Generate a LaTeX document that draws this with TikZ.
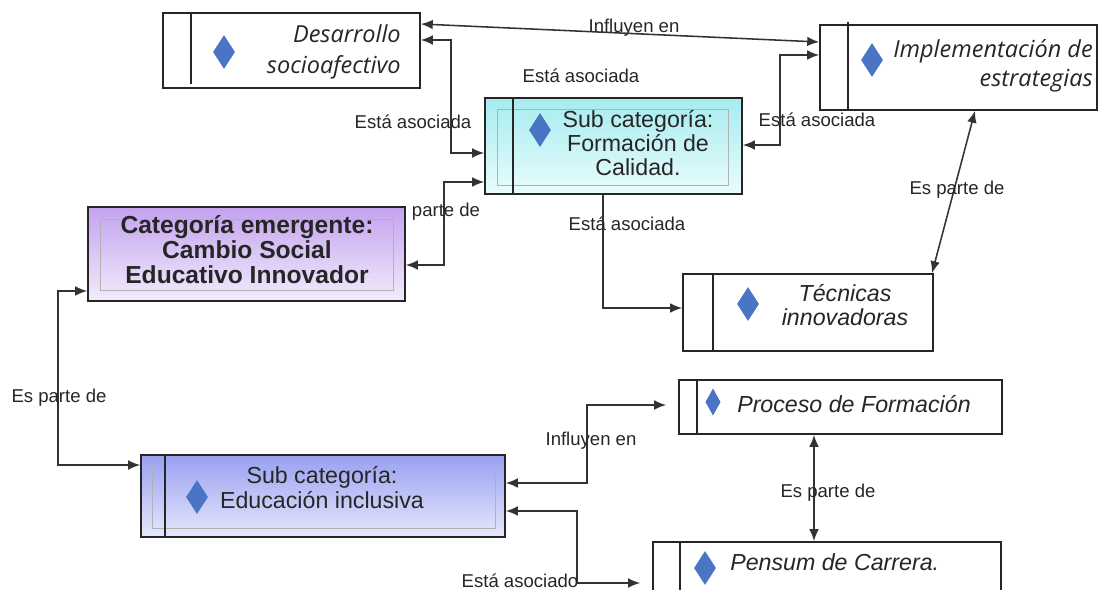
\documentclass[tikz,border=0pt]{standalone}
\usepackage{fontspec}
\setmainfont{Liberation Sans}
\newfontfamily\opensans{Open Sans}
\usetikzlibrary{arrows.meta,fit,shapes.geometric}
\definecolor{gemblue}{HTML}{4A74C4}
\definecolor{cyantop}{HTML}{A6ECEF}
\definecolor{cyanbot}{HTML}{EAFCFD}
\definecolor{violtop}{HTML}{C4A2EE}
\definecolor{violbot}{HTML}{F2ECFC}
\definecolor{bluetop}{HTML}{98A0F0}
\definecolor{bluebot}{HTML}{E6E8FC}
\tikzset{
  box/.style={draw=black!85,line width=1.1pt,inner sep=0pt},
  faint/.style={draw=black!30,line width=0.4pt},
  gem/.style={diamond,fill=gemblue,inner sep=0pt,minimum width=0.55cm,minimum height=0.85cm},
  lbl/.style={font=\fontsize{13.2}{15}\selectfont,inner sep=0pt,text=black!85},
  link/.style={line width=1.1pt,draw=black!80,<->},
  linkto/.style={line width=1.1pt,draw=black!80,->},
  >={Latex[length=3mm,width=2.4mm]}
}
\begin{document}
\begin{tikzpicture}[x=0.025cm,y=-0.025cm]
\clip (0,0) rectangle (1099,590);
\fill[white] (0,0) rectangle (1099,590);
% boxes
\node[box,fit={(163,13) (420,88)}] (des) {};
\node[box,fit={(820,25) (1097,110)}] (impl) {};
\node[box,top color=cyantop,bottom color=cyanbot,fit={(485,98) (742,194)}] (form) {};
\node[box,top color=violtop,bottom color=violbot,fit={(88,207) (405,301)}] (cat) {};
\node[box,fit={(683,274) (933,351)}] (tec) {};
\node[box,fit={(679,380) (1002,434)}] (pro) {};
\node[box,top color=bluetop,bottom color=bluebot,fit={(141,455) (505,537)}] (edu) {};
\node[box,fit={(653,542) (1001,600)}] (pen) {};
% inner lines
\draw[black!85,line width=0.9pt] (191,13) -- (191,84);
\draw[black!85,line width=0.9pt] (848,22) -- (848,110);
\draw[faint] (497,109) rectangle (728,185);
\draw[black!85,line width=0.9pt] (513,98) -- (513,194);
\draw[faint] (100,219) rectangle (393,290);
\draw[black!85,line width=0.9pt] (713,274) -- (713,351);
\draw[black!85,line width=0.9pt] (697,380) -- (697,434);
\draw[faint] (152,465) rectangle (495,528);
\draw[black!85,line width=0.9pt] (165,455) -- (165,537);
\draw[black!85,line width=0.9pt] (680,542) -- (680,590);
% diamonds
\node[gem] (g1) at (224,52) {};
\node[gem] (g2) at (872,60) {};
\node[gem] (g3) at (540,130) {};
\node[gem] (g4) at (748,304) {};
\node[gem,minimum width=0.38cm,minimum height=0.68cm] (g5) at (713,402) {};
\node[gem] (g6) at (197,497) {};
\node[gem] (g7) at (705,568) {};
% texts
\node[anchor=east,align=right,inner sep=0pt,text=black!85,font=\opensans\itshape\fontsize{16.7}{22.5}\selectfont] (desT) at (401,52) {Desarrollo\\socioafectivo};
\node[anchor=east,align=right,inner sep=0pt,text=black!85,font=\opensans\itshape\fontsize{16.7}{20.5}\selectfont] (implT) at (1093,66) {Implementación de\\estrategias};
\node[align=center,inner sep=0pt,text=black!85,font=\fontsize{16.5}{16.8}\selectfont] (formT) at (638,143) {Sub categoría:\\Formación de\\Calidad.};
\node[align=center,inner sep=0pt,text=black!85,font=\bfseries\fontsize{17.5}{17.8}\selectfont] (catT) at (247,250) {Categoría emergente:\\Cambio Social\\Educativo Innovador};
\node[align=center,inner sep=0pt,text=black!85,font=\itshape\fontsize{16.5}{17.2}\selectfont] (tecT) at (845,305) {Técnicas\\innovadoras};
\node[anchor=west,inner sep=0pt,text=black!85,font=\itshape\fontsize{16.5}{18}\selectfont] (proT) at (737,404) {Proceso de Formación};
\node[align=center,inner sep=0pt,text=black!85,font=\fontsize{16.5}{17.8}\selectfont] (eduT) at (322,488) {Sub categoría:\\Educación inclusiva};
\node[anchor=west,inner sep=0pt,text=black!85,font=\itshape\fontsize{16.5}{18}\selectfont] (penT) at (730,562) {Pensum de Carrera.};
% connectors
\draw[link] (des.east |- 0,24) -- (impl.west |- 0,42);
\draw[link] (des.east |- 0,40) -- ++(30,0) |- (form.west |- 0,153);
\draw[link] (form.east |- 0,145) -- ++(37,0) |- (impl.west |- 0,55);
\draw[link] (cat.east |- 0,265) -- ++(38,0) |- (form.west |- 0,182);
\draw[linkto] (form.south -| 603,0) |- (tec.west |- 0,308);
\draw[link] (impl.south -| 975,0) -- (tec.north -| 932,0);
\draw[link] (cat.west |- 0,291) -- ++(-29,0) |- (edu.west |- 0,465);
\draw[link,shorten >=0.3cm] (edu.east |- 0,483) -- ++(81,0) |- (pro.west |- 0,405);
\draw[link,shorten >=0.3cm] (edu.east |- 0,511) -- ++(71,0) |- (pen.west |- 0,583);
\draw[link] (pro.south -| 814,0) -- (pen.north -| 814,0);
% labels
\node[lbl] (l1) at (634,28) {Influyen en};
\node[lbl] (l2) at (581,76) {Está asociada};
\node[lbl] (l3) at (413,122) {Está asociada};
\node[lbl] (l4) at (817,120) {Está asociada};
\node[lbl] (l5) at (446,212) {parte de};
\node[lbl] (l6) at (627,224) {Está asociada};
\node[lbl] (l7) at (957,190) {Es parte de};
\node[lbl] (l8) at (59,398) {Es parte de};
\node[lbl] (l9) at (591,441) {Influyen en};
\node[lbl] (l10) at (828,493) {Es parte de};
\node[lbl] (l11) at (520,581) {Está asociado};
\end{tikzpicture}
\end{document}
